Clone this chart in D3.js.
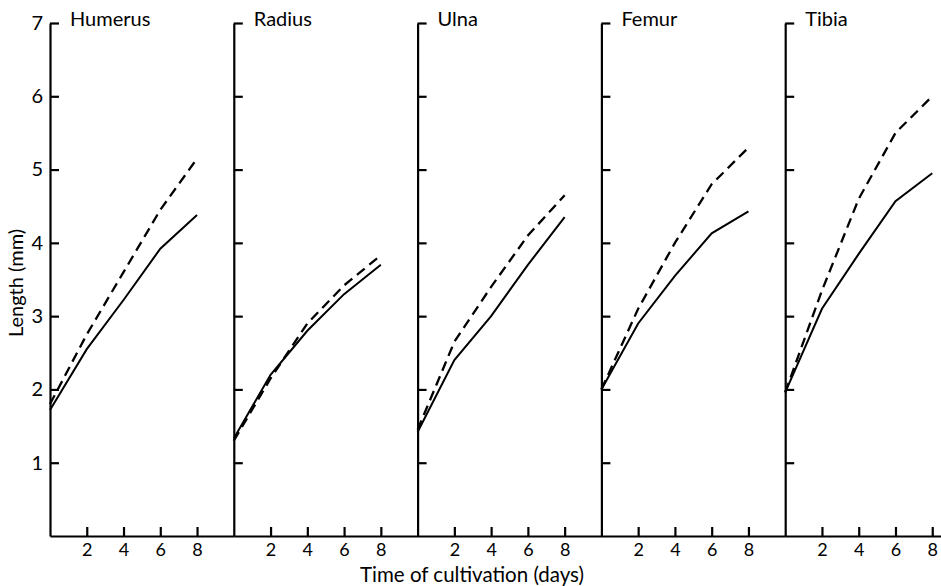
<!DOCTYPE html>
<html>
<head>
<meta charset="utf-8">
<script src="https://cdn.jsdelivr.net/npm/d3@7"></script>
<style>
  html, body { margin: 0; padding: 0; background: #fff; }
  svg { display: block; font-family: Lato, 'Open Sans', sans-serif; }
</style>
</head>
<body>
<div id="chart"></div>
<script>
// bones, one panel each
const bones = ['Humerus', 'Radius', 'Ulna', 'Femur', 'Tibia'];
const days = [0, 2, 4, 6, 8];

// length (mm) per bone
const solidLengths = [
  [1.72, 2.55, 3.22, 3.92, 4.38],
  [1.33, 2.2, 2.8, 3.3, 3.7],
  [1.42, 2.4, 3.0, 3.7, 4.35],
  [2.0, 2.9, 3.55, 4.13, 4.43],
  [1.96, 3.1, 3.85, 4.57, 4.95]
];
const dashedLengths = [
  [1.8, 2.75, 3.6, 4.45, 5.15],
  [1.3, 2.15, 2.9, 3.42, 3.83],
  [1.45, 2.65, 3.4, 4.1, 4.65],
  [2.0, 3.1, 4.0, 4.8, 5.3],
  [1.96, 3.35, 4.6, 5.5, 6.0]
];

const yTicks = [1, 2, 3, 4, 5, 6, 7];
const xTicks = [2, 4, 6, 8];

const W = 941, H = 586;
const plotTop = 23, plotBottom = 536;
const firstAxis = 50, panelW = 183.8;

const svg = d3.select('#chart').append('svg')
  .attr('width', W)
  .attr('height', H)
  .attr('viewBox', `0 0 ${W} ${H}`);

const y = d3.scaleLinear().domain([0, 7]).range([plotBottom, plotTop]);
const panelX = d3.scaleLinear().domain([0, 1]).range([firstAxis, firstAxis + panelW]);

bones.forEach((name, i) => {
  const x0 = panelX(i);
  const x = d3.scaleLinear().domain([0, 10]).range([x0, x0 + panelW]);
  const g = svg.append('g');

  // bottom axis, ticks point up
  const xa = g.append('g')
    .attr('transform', `translate(0,${plotBottom})`)
    .call(d3.axisBottom(x).tickValues(xTicks).tickSize(-9).tickSizeOuter(0).tickPadding(7));
  xa.select('.domain').attr('stroke-width', 2.2);
  xa.selectAll('.tick line').attr('stroke-width', 2.2);
  xa.selectAll('.tick text').attr('font-size', 18).attr('fill', '#000')
    .style('font-family', 'Lato, sans-serif');

  // left axis, ticks point in
  const ya = g.append('g')
    .attr('transform', `translate(${x0},0)`)
    .call(d3.axisLeft(y).tickValues(yTicks).tickSize(-9).tickSizeOuter(0).tickPadding(7)
      .tickFormat(i === 0 ? d3.format('d') : () => ''));
  ya.select('.domain').attr('stroke-width', 2.2);
  ya.selectAll('.tick line').attr('stroke-width', 2.2);
  ya.selectAll('.tick text').attr('font-size', 20).attr('fill', '#000')
    .style('font-family', 'Lato, sans-serif');

  // panel title
  g.append('text')
    .attr('x', x0 + 20)
    .attr('y', plotTop + 3)
    .attr('font-size', 20)
    .text(name);

  const line = d3.line().x((d, k) => x(days[k])).y(d => y(d));

  g.append('path')
    .datum(dashedLengths[i])
    .attr('d', line)
    .attr('fill', 'none')
    .attr('stroke', '#000')
    .attr('stroke-width', 2.3)
    .attr('stroke-dasharray', '10,6');

  g.append('path')
    .datum(solidLengths[i])
    .attr('d', line)
    .attr('fill', 'none')
    .attr('stroke', '#000')
    .attr('stroke-width', 2);
});

// axis titles
svg.append('text')
  .attr('transform', `translate(23,${(223 + 343) / 2}) rotate(-90)`)
  .attr('text-anchor', 'middle')
  .attr('font-size', 20)
  .text('Length (mm)');

svg.append('text')
  .attr('x', 472)
  .attr('y', 582)
  .attr('text-anchor', 'middle')
  .attr('font-size', 20.5)
  .text('Time of cultivation (days)');
</script>
</body>
</html>
